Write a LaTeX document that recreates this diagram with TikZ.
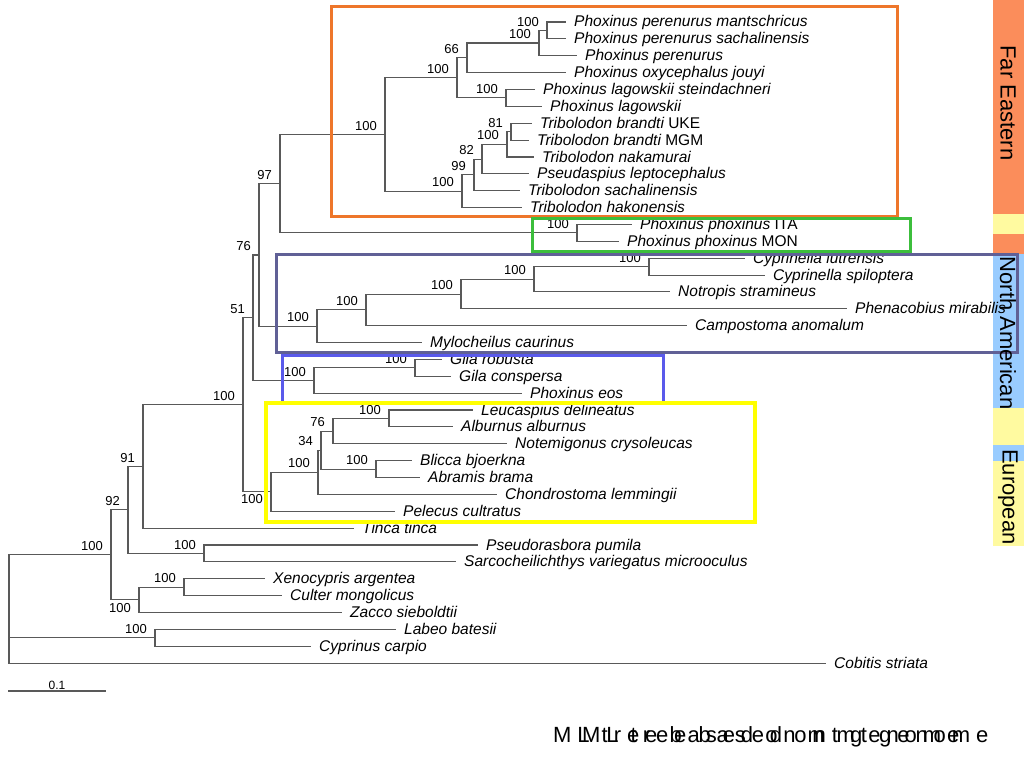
\documentclass[tikz,border=0pt]{standalone}
\usepackage{fontspec}
\usetikzlibrary{calc}
\setmainfont{Liberation Sans}
\definecolor{cadreFE}{RGB}{238,118,42}
\definecolor{cadrePP}{RGB}{60,190,60}
\definecolor{cadreNA}{RGB}{96,96,150}
\definecolor{cadreGI}{RGB}{90,90,235}
\definecolor{cadreEU}{RGB}{255,255,0}
\definecolor{barreFE}{RGB}{251,141,91}
\definecolor{barreNA}{RGB}{153,204,255}
\definecolor{barreEU}{RGB}{255,250,160}
\tikzset{
  branch/.style={draw=black!65, line width=1.1pt},
  leaf/.style={anchor=west, inner xsep=8pt, inner ysep=0pt, text height=10pt, text depth=0pt,
    font=\fontsize{15.5}{17}\selectfont\itshape},
  boot/.style={anchor=south east, inner sep=0pt, xshift=-8pt, yshift=4pt,
    font=\fontsize{13}{14}\selectfont},
  bootb/.style={anchor=north east, inner sep=0pt, xshift=-8pt, yshift=-3pt,
    font=\fontsize{13}{14}\selectfont},
  cadre/.style={line width=3pt},
  zone/.style={rotate=-90, font=\fontsize{22}{24}\selectfont},
  titre/.style={anchor=west, inner sep=0pt, font=\fontsize{22}{24}\selectfont\addfontfeature{LetterSpace=27}},
}
\begin{document}
\begin{tikzpicture}[x=1pt,y=-1pt]
\useasboundingbox (0,0) rectangle (1024,768);
% ------ barre des zones -----------------------------
\fill[barreFE] (993,0) rectangle (1024,214);
\fill[barreEU] (993,214) rectangle (1024,234);
\fill[barreFE] (993,234) rectangle (1024,254);
\fill[barreNA] (993,254) rectangle (1024,408);
\fill[barreEU] (993,408) rectangle (1024,445);
\fill[barreNA] (993,445) rectangle (1024,461);
\fill[barreEU] (993,461) rectangle (1024,546);

% ------ feuilles -----------------------------
\node[leaf] (pmant) at (566,22) {Phoxinus perenurus mantschricus};
\node[leaf] (psach) at (566,38.9) {Phoxinus perenurus sachalinensis};
\node[leaf] (pper) at (577,55.7) {Phoxinus perenurus};
\node[leaf] (poxy) at (566,72.6) {Phoxinus oxycephalus jouyi};
\node[leaf] (plagst) at (535,89.5) {Phoxinus lagowskii steindachneri};
\node[leaf] (plag) at (542,106.4) {Phoxinus lagowskii};
\node[leaf] (tuke) at (532,123.2) {Tribolodon brandti \upshape UKE};
\node[leaf] (tmgm) at (529,140.1) {Tribolodon brandti \upshape MGM};
\node[leaf] (tnak) at (534,157) {Tribolodon nakamurai};
\node[leaf] (pleu) at (529,173.8) {Pseudaspius leptocephalus};
\node[leaf] (tsac) at (520,190.7) {Tribolodon sachalinensis};
\node[leaf] (thak) at (522,207.6) {Tribolodon hakonensis};
\node[leaf] (pita) at (632,224.4) {Phoxinus phoxinus \upshape ITA};
\node[leaf] (pmon) at (619,241.3) {Phoxinus phoxinus \upshape MON};
\node[leaf] (clut) at (745,258.2) {Cyprinella lutrensis};
\node[leaf] (cspi) at (765,275.1) {Cyprinella spiloptera};
\node[leaf] (nstr) at (670,291.9) {Notropis stramineus};
\node[leaf] (pmir) at (847,308.8) {Phenacobius mirabilis};
\node[leaf] (cano) at (687,325.7) {Campostoma anomalum};
\node[leaf] (mcau) at (422,342.5) {Mylocheilus caurinus};
\node[leaf] (grob) at (442,359.4) {Gila robusta};
\node[leaf] (gcon) at (451,376.3) {Gila conspersa};
\node[leaf] (peos) at (522,393.1) {Phoxinus eos};
\node[leaf] (ldel) at (473,410) {Leucaspius delineatus};
\node[leaf] (aalb) at (453,426.9) {Alburnus alburnus};
\node[leaf] (ncry) at (507,443.8) {Notemigonus crysoleucas};
\node[leaf] (bbjo) at (412,460.6) {Blicca bjoerkna};
\node[leaf] (abra) at (420,477.5) {Abramis brama};
\node[leaf] (clem) at (497,494.4) {Chondrostoma lemmingii};
\node[leaf] (pcul) at (395,511.2) {Pelecus cultratus};
\node[leaf] (ttin) at (354,528.1) {Tinca tinca};
\node[leaf] (ppum) at (478,545) {Pseudorasbora pumila};
\node[leaf] (svar) at (456,561.8) {Sarcocheilichthys variegatus microoculus};
\node[leaf] (xarg) at (265,578.7) {Xenocypris argentea};
\node[leaf] (cmon) at (282,595.6) {Culter mongolicus};
\node[leaf] (zsie) at (342,612.5) {Zacco sieboldtii};
\node[leaf] (lbat) at (396,629.3) {Labeo batesii};
\node[leaf] (ccar) at (311,646.2) {Cyprinus carpio};
\node[leaf] (cstr) at (826,663.1) {Cobitis striata};

% ------ noeuds internes -----------------------------
\coordinate (nmant) at (547,30.5);
\coordinate (nper) at (539,43);
\coordinate (n66) at (467,57.8);
\coordinate (nlag) at (506,97.9);
\coordinate (npho) at (457,77.9);
\coordinate (n81) at (511,131.7);
\coordinate (n100t) at (507,144.3);
\coordinate (n82) at (482,159.1);
\coordinate (n99) at (474,174.9);
\coordinate (ntrib) at (462,191.3);
\coordinate (nfe) at (385,134.6);
\coordinate (nppx) at (577,232.9);
\coordinate (n97) at (280,183.7);
\coordinate (ncyp) at (649,266.6);
\coordinate (nnot) at (534,279.3);
\coordinate (nphe) at (461,294.1);
\coordinate (ncam) at (366,309.9);
\coordinate (nna) at (317,326.2);
\coordinate (n76) at (259,255);
\coordinate (ngil2) at (415,367.8);
\coordinate (ngil) at (314,380.5);
\coordinate (n51) at (253,317.7);
\coordinate (nleu) at (389,418.4);
\coordinate (nnote) at (333,431.1);
\coordinate (nabr) at (376,469.1);
\coordinate (n34) at (321,450.1);
\coordinate (nchon) at (318,472.3);
\coordinate (neur) at (271,491.7);
\coordinate (nleuc) at (243,404.7);
\coordinate (n91) at (143,466.4);
\coordinate (npse) at (204,553.4);
\coordinate (n92) at (128,509.9);
\coordinate (nxen) at (184,587.2);
\coordinate (nzac) at (139,599.8);
\coordinate (ning) at (111,554.9);
\coordinate (nlab) at (155,637.8);
\coordinate (racine) at (9,609);

% ------ branches -----------------------------
\draw[branch] (nmant) |- (pmant.west) (nmant) |- (psach.west);
\draw[branch] (nper) |- (nmant) (nper) |- (pper.west);
\draw[branch] (n66) |- (nper) (n66) |- (poxy.west);
\draw[branch] (nlag) |- (plagst.west) (nlag) |- (plag.west);
\draw[branch] (npho) |- (n66) (npho) |- (nlag);
\draw[branch] (n81) |- (tuke.west) (n81) |- (tmgm.west);
\draw[branch] (n100t) |- (n81) (n100t) |- (tnak.west);
\draw[branch] (n82) |- (n100t) (n82) |- (pleu.west);
\draw[branch] (n99) |- (n82) (n99) |- (tsac.west);
\draw[branch] (ntrib) |- (n99) (ntrib) |- (thak.west);
\draw[branch] (nfe) |- (npho) (nfe) |- (ntrib);
\draw[branch] (nppx) |- (pita.west) (nppx) |- (pmon.west);
\draw[branch] (n97) |- (nfe) (n97) |- (nppx);
\draw[branch] (ncyp) |- (clut.west) (ncyp) |- (cspi.west);
\draw[branch] (nnot) |- (ncyp) (nnot) |- (nstr.west);
\draw[branch] (nphe) |- (nnot) (nphe) |- (pmir.west);
\draw[branch] (ncam) |- (nphe) (ncam) |- (cano.west);
\draw[branch] (nna) |- (ncam) (nna) |- (mcau.west);
\draw[branch] (n76) |- (n97) (n76) |- (nna);
\draw[branch] (ngil2) |- (grob.west) (ngil2) |- (gcon.west);
\draw[branch] (ngil) |- (ngil2) (ngil) |- (peos.west);
\draw[branch] (n51) |- (n76) (n51) |- (ngil);
\draw[branch] (nleu) |- (ldel.west) (nleu) |- (aalb.west);
\draw[branch] (nnote) |- (nleu) (nnote) |- (ncry.west);
\draw[branch] (nabr) |- (bbjo.west) (nabr) |- (abra.west);
\draw[branch] (n34) |- (nnote) (n34) |- (nabr);
\draw[branch] (nchon) |- (n34) (nchon) |- (clem.west);
\draw[branch] (neur) |- (nchon) (neur) |- (pcul.west);
\draw[branch] (nleuc) |- (n51) (nleuc) |- (neur);
\draw[branch] (n91) |- (nleuc) (n91) |- (ttin.west);
\draw[branch] (npse) |- (ppum.west) (npse) |- (svar.west);
\draw[branch] (n92) |- (n91) (n92) |- (npse);
\draw[branch] (nxen) |- (xarg.west) (nxen) |- (cmon.west);
\draw[branch] (nzac) |- (nxen) (nzac) |- (zsie.west);
\draw[branch] (ning) |- (n92) (ning) |- (nzac);
\draw[branch] (nlab) |- (lbat.west) (nlab) |- (ccar.west);
\draw[branch] (racine) |- (ning) (racine) |- (nlab) (racine) |- (cstr.west);

% ------ bootstrap -----------------------------
\node[boot] (bmant) at (nmant) {100};
\node[boot] (bper) at (nper) {100};
\node[boot] (b66) at (n66) {66};
\node[boot] (blag) at (nlag) {100};
\node[boot] (bpho) at (npho) {100};
\node[boot] (b81) at (n81) {81};
\node[boot] (b100t) at (n100t) {100};
\node[boot] (b82) at (n82) {82};
\node[boot] (b99) at (n99) {99};
\node[boot] (btrib) at (ntrib) {100};
\node[boot] (bfe) at (nfe) {100};
\node[boot] (bppx) at (nppx) {100};
\node[boot] (b97) at (n97) {97};
\node[boot] (bcyp) at (ncyp) {100};
\node[boot] (bnot) at (nnot) {100};
\node[boot] (bphe) at (nphe) {100};
\node[boot] (bcam) at (ncam) {100};
\node[boot] (bna) at (nna) {100};
\node[boot] (b76) at (n76) {76};
\node[boot] (bgil2) at (ngil2) {100};
\node[boot] (bgil) at (ngil) {100};
\node[boot] (b51) at (n51) {51};
\node[boot] (bleu) at (nleu) {100};
\node[boot] (bnote) at (nnote) {76};
\node[boot] (babr) at (nabr) {100};
\node[boot] (b34) at (n34) {34};
\node[boot] (bchon) at (nchon) {100};
\node[bootb] (beur) at (neur) {100};
\node[boot] (bleuc) at (nleuc) {100};
\node[boot] (b91) at (n91) {91};
\node[boot] (bpse) at (npse) {100};
\node[boot] (b92) at (n92) {92};
\node[boot] (bxen) at (nxen) {100};
\node[bootb] (bzac) at (nzac) {100};
\node[boot] (bing) at (ning) {100};
\node[boot] (blab) at (nlab) {100};

% ------ cadres -----------------------------
\draw[cadre, cadreFE] (331,7) rectangle (897,216);
\draw[cadre, cadrePP] (532,218) rectangle (910,251);
\draw[cadre, cadreNA] (276,254) rectangle (1017,352);
\draw[cadre, cadreGI] (282,355) rectangle (663,403);
\draw[cadre, cadreEU, line width=4pt] (266,403) rectangle (755,522);

% ------ zones -----------------------------
\node[zone] (zfe) at (1008,103) {Far Eastern};
\node[zone] (zna) at (1008,333) {North American};
\node[zone] (zeu) at (1008,497) {European};

% ------ echelle -----------------------------
\coordinate (e0) at (8,691);
\coordinate (e1) at (106,691);
\draw[branch] (e0) -- (e1);
\node[font=\fontsize{12}{13}\selectfont, above=1pt, inner sep=0pt] (eval) at ($(e0)!0.5!(e1)$) {0.1};

% ------ titre -----------------------------
\node[titre] (titre) at (553,737) {ML tree based on mt genome};
\node[titre] (titreb) at (582,737) {ML tree based on mt genome};
\end{tikzpicture}
\end{document}
